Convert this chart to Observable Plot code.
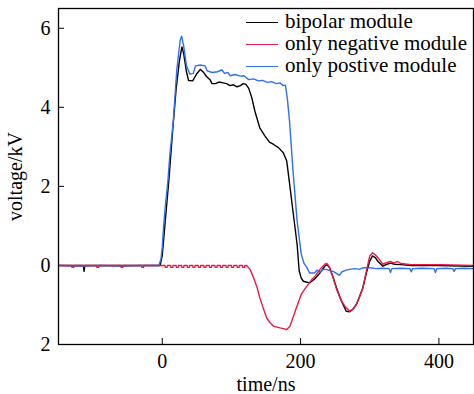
<!DOCTYPE html>
<html><head><meta charset="utf-8">
<script src="https://cdn.jsdelivr.net/npm/d3@7"></script>
<script src="https://cdn.jsdelivr.net/npm/@observablehq/plot@0.6"></script>
<style>
body{margin:0;background:#fff;}
#wrap{position:relative;width:474px;height:394px;font-family:"Liberation Serif","LiberationSerif","DejaVu Serif","Noto Serif",Tinos,"Times New Roman",Times,serif;}
#legend{position:absolute;left:246px;top:11px;font-size:21px;color:#000;}
.row{display:flex;align-items:center;height:22px;}
.sw{width:32px;height:0;border-top:1.3px solid;margin-right:7px;}
.lt{position:relative;top:-1px;white-space:nowrap;}
svg text{font-family:"Liberation Serif","LiberationSerif","DejaVu Serif","Noto Serif",Tinos,"Times New Roman",Times,serif !important;}
</style></head><body><div id="wrap"><div id="legend"></div></div>
<script>
const seriesNames = ["bipolar module", "only negative module", "only postive module"];
const seriesColors = ["#000000", "#e8194a", "#2e6ff2"];
const xTicks = [0, 200, 400];
const yTicks = [-2, 0, 2, 4, 6];

const bipTime = [-150,-114,-113,-112,-60,-3,0,3,6,10,15,20,25,28.5,31,35,38,44,50,55,60,64,69,72,77,82,88,93,98,103,108,113,117,121,125,129.5,134,141,148.6,155,161,168,175,180,184.6,189,195,198,201,204,208,213,220,228,235,238,242,247,252,259,266,271,276,281,290,295,300,304,308,312,319,325,330,336,345,360,400,450];
const bipVolt = [0,0,-0.15,0,0,0,0.25,0.85,1.45,2.25,3.4,4.45,5.2,5.53,5.35,4.9,4.68,4.67,4.85,4.96,4.88,4.78,4.7,4.6,4.6,4.64,4.62,4.6,4.55,4.57,4.52,4.55,4.6,4.58,4.48,4.24,3.9,3.48,3.27,3.12,3.06,2.98,2.85,2.64,2.0,1.37,0.53,-0.14,-0.32,-0.4,-0.42,-0.44,-0.35,-0.19,-0.02,0.02,-0.06,-0.3,-0.57,-0.9,-1.16,-1.17,-1.1,-0.98,-0.57,-0.2,0.11,0.24,0.2,0.1,-0.02,0.03,0.06,0.03,0.02,0,0,-0.02];

const negTime = [-150,-131,-130.5,-128,-127.5,-95,-94.5,-92,-91.5,-60,-59.5,-57,-56.5,-30,-29.5,-27,-26.5,
  4,4.5,7,7.5,12,12.5,15,15.5,20,20.5,23,23.5,28,28.5,31,31.5,36,36.5,39,39.5,44,44.5,47,47.5,52,52.5,55,55.5,
  60,60.5,63,63.5,68,68.5,71,71.5,76,76.5,79,79.5,84,84.5,87,87.5,92,92.5,95,95.5,100,100.5,103,103.5,
  108,108.5,111,111.5,116,116.5,119,119.5,
  122,127,132,137,141,146,151,156,161,166,170,175,180,184.6,189,194,201,206,211,216,221,228,235,238,241,247,252,257,262,266,271,274,278,284,290,295,300,304,308,312,319,324,330,335,340,345,360,400,450];
const negVolt = [0,0,-0.05,-0.05,0,0,-0.05,-0.05,0,0,-0.05,-0.05,0,0,-0.05,-0.05,0,
  0,-0.05,-0.05,0,0,-0.05,-0.05,0,0,-0.05,-0.05,0,0,-0.05,-0.05,0,0,-0.05,-0.05,0,0,-0.05,-0.05,0,0,-0.05,-0.05,0,
  0,-0.05,-0.05,0,0,-0.05,-0.05,0,0,-0.05,-0.05,0,0,-0.05,-0.05,0,0,-0.05,-0.05,0,0,-0.05,-0.05,0,
  0,-0.05,-0.05,0,0,-0.05,-0.05,0,
  0,-0.1,-0.31,-0.55,-0.82,-1.08,-1.33,-1.45,-1.54,-1.56,-1.58,-1.6,-1.62,-1.54,-1.32,-1.07,-0.73,-0.6,-0.48,-0.36,-0.27,-0.1,0.03,0.05,-0.02,-0.31,-0.6,-0.82,-0.98,-1.07,-1.16,-1.12,-1.07,-0.85,-0.57,-0.15,0.24,0.32,0.27,0.19,0.03,0.07,0.1,0.06,0.1,0.05,0.02,0.02,0];

const posTime = [-150,-120,-90,-60,-30,-5,-2,0,2,5,8,11,16,21,26,28,31,35,40,45,48,55,62,65,72,80,86,90,95,98,105,113,118,125,132,139,145,152,158,165,170,175,178,181,184,189,195,201,205,209,213,220,224,228,233,237,242,247,252,256,260,266,271,278,285,290,300,309,318,328,330,332,345,358,360,362,375,393,395,397,410,420,422,424,436,450];
const posVolt = [0,-0.02,0,-0.02,0,0,0.15,0.45,1.0,1.6,2.1,2.8,3.65,4.95,5.7,5.8,5.55,5.05,4.84,4.86,5.05,5.07,5.05,4.92,4.88,4.9,4.95,4.86,4.88,4.8,4.83,4.79,4.8,4.7,4.72,4.67,4.68,4.63,4.65,4.6,4.62,4.55,4.56,4.2,3.65,2.4,1.12,0.28,0.05,-0.05,-0.19,-0.19,-0.12,-0.17,-0.1,-0.1,-0.13,-0.15,-0.2,-0.25,-0.16,-0.12,-0.1,-0.08,-0.1,-0.06,-0.06,-0.08,-0.07,-0.08,-0.18,-0.08,-0.07,-0.08,-0.16,-0.08,-0.07,-0.08,-0.18,-0.08,-0.07,-0.08,-0.15,-0.08,-0.07,-0.08];

const toRows = (ts, vs, s) => ts.map((t, i) => ({t, v: vs[i], s}));
const bip = toRows(bipTime, bipVolt, seriesNames[0]);
const neg = toRows(negTime, negVolt, seriesNames[1]);
const pos = toRows(posTime, posVolt, seriesNames[2]);

const serif = "'Liberation Serif','LiberationSerif','DejaVu Serif','Noto Serif',Tinos,'Times New Roman',Times,serif";
const plot = Plot.plot({
  width: 474, height: 394,
  marginTop: 8, marginBottom: 50, marginLeft: 58, marginRight: 1,
  style: {fontFamily: serif, fontSize: "20px", color: "#000", background: "#fff"},
  x: {domain: [-150, 450]},
  y: {domain: [-2, 6.5]},
  color: {domain: seriesNames, range: seriesColors},
  marks: [
    Plot.axisX(xTicks, {tickSize: -6, tickPadding: 15, label: "time/ns", labelAnchor: "center", labelOffset: 46, labelArrow: "none", fontSize: 20}),
    Plot.axisY(yTicks, {tickSize: -6, tickPadding: 14, tickFormat: d => String(Math.abs(d)), label: "voltage/kV", labelAnchor: "center", labelOffset: 51, labelArrow: "none", fontSize: 20}),
    Plot.line(bip, {x: "t", y: "v", stroke: "s", strokeWidth: 1.4}),
    Plot.line(pos, {x: "t", y: "v", stroke: "s", strokeWidth: 1.4}),
    Plot.line(neg, {x: "t", y: "v", stroke: "s", strokeWidth: 1.4}),
    Plot.frame({stroke: "#000", strokeWidth: 1.3})
  ]
});
d3.select(plot).selectAll("text").style("font-family", serif);
const wrap = document.getElementById("wrap");
wrap.insertBefore(plot, wrap.firstChild);

const leg = document.getElementById("legend");
seriesNames.forEach((n, i) => {
  const r = document.createElement("div"); r.className = "row";
  const sw = document.createElement("span"); sw.className = "sw"; sw.style.borderTopColor = seriesColors[i];
  const tx = document.createElement("span"); tx.className = "lt"; tx.textContent = n;
  r.appendChild(sw); r.appendChild(tx); leg.appendChild(r);
});
</script></body></html>
